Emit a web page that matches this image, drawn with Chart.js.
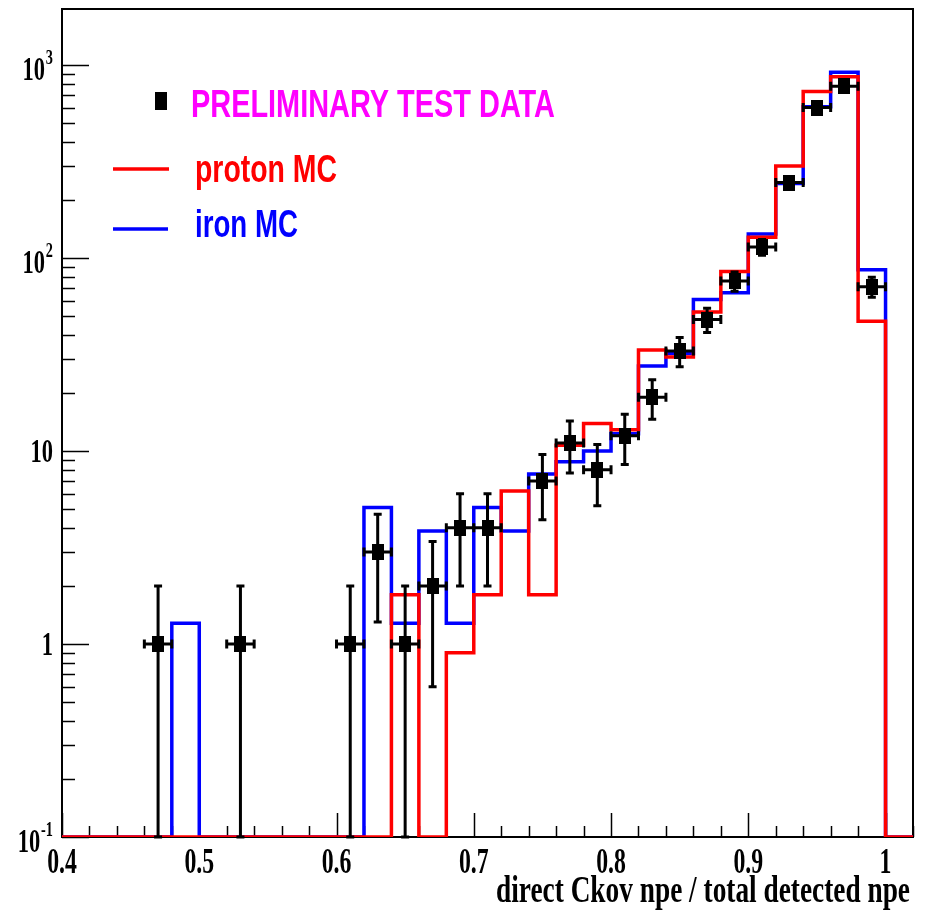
<!DOCTYPE html>
<html>
<head>
<meta charset="utf-8">
<script src="https://cdn.jsdelivr.net/npm/chart.js@4.4.1/dist/chart.umd.min.js"></script>
<style>
  html, body { margin: 0; padding: 0; background: #ffffff; }
  canvas { display: block; }
</style>
</head>
<body>
<canvas id="c" width="927" height="923"></canvas>
<script>
// ---------------- data ----------------
// left edges of the 0.02-wide bins
const binLow = [0.40,0.42,0.44,0.46,0.48,0.50,0.52,0.54,0.56,0.58,0.60,0.62,0.64,0.66,0.68,0.70,
                0.72,0.74,0.76,0.78,0.80,0.82,0.84,0.86,0.88,0.90,0.92,0.94,0.96,0.98,1.00];
const binHigh = 1.02;
const protonMC = [0,0,0,0,0,0,0,0,0,0,0,0,1.8,0,0.9,1.8,
                  6.2,1.8,10.7,13.9,12.9,33.4,30.7,52.5,85,128,300,728,870,47,0];
const ironMC   = [0,0,0,0,1.28,0,0,0,0,0,0,5.1,1.28,3.85,1.28,5.1,
                  3.85,7.6,8.8,10.0,12.3,27.6,32,61,66,133,243,608,916,87,0];
// preliminary test data points (bin centres), counts and errors
const dataX   = [0.47,0.53,0.61,0.63,0.65,0.67,0.69,0.71,0.75,0.77,0.79,0.81,0.83,0.85,0.87,0.89,0.91,0.93,0.95,0.97,0.99];
const dataY   = [1,1,1,3,1,2,4,4,7,11,8,12,19,33,48,76,114,246,602,777,71];
const dataErr = [1.0,1.0,1.0,1.7,1.0,1.4,2.0,2.0,2.6,3.3,2.8,3.5,4.4,5.7,6.9,8.7,10.7,15.7,24.5,27.9,8.4];
const dataHalfWidth = 0.01;
// axis ticks
const xTickValues = [0.4,0.5,0.6,0.7,0.8,0.9,1.0];
const xTickLabels = ['0.4','0.5','0.6','0.7','0.8','0.9','1'];
const xMinorStep = 0.02;
const yTickValues = [0.1,1,10,100,1000];
const yTickBase   = ['10','1','10','10','10'];
const yTickExp    = ['-1','','','2','3'];
const X_MIN = 0.4, X_MAX = 1.02, Y_MIN = 0.1, Y_MAX = 1950;

const legendTitle = 'PRELIMINARY TEST DATA';
const legendProton = 'proton MC';
const legendIron = 'iron MC';
const xAxisTitle = 'direct Ckov npe / total detected npe';

// ---------------- helpers ----------------
// each bin value is held from its left edge to the next edge
function stepPoints(vals) {
  const pts = [{ x: binLow[0], y: Y_MIN }];
  binLow.forEach((x, i) => {
    const nx = i + 1 < binLow.length ? binLow[i + 1] : binHigh;
    pts.push({ x: nx, y: Math.max(vals[i], Y_MIN) });
  });
  return pts;
}
const SERIF = '"Liberation Serif", "DejaVu Serif", serif';
const SANS = '"Liberation Sans", Arial, sans-serif';
function txt(ctx, s, x, y, font, color, align, sx) {
  ctx.save();
  ctx.font = font;
  ctx.fillStyle = color;
  ctx.textBaseline = 'alphabetic';
  ctx.textAlign = align;
  ctx.translate(x, y);
  ctx.scale(sx, 1);
  ctx.fillText(s, 0, 0);
  ctx.restore();
}
function txtFit(ctx, s, x, y, font, color, align, width) {
  ctx.save();
  ctx.font = font;
  const w = ctx.measureText(s).width;
  ctx.restore();
  txt(ctx, s, x, y, font, color, align, width / w);
}

const marker = document.createElement('canvas');
marker.width = 12; marker.height = 16;
(function(){ const m = marker.getContext('2d'); m.fillStyle = '#000'; m.fillRect(0,0,12,16); })();

// ---------------- plugins ----------------
const framePlugin = {
  id: 'frame',
  beforeDatasetsDraw(chart) {
    const ctx = chart.ctx, a = chart.chartArea;
    const xs = chart.scales.x, ys = chart.scales.y;
    ctx.save();
    ctx.strokeStyle = '#000';
    ctx.lineWidth = 2;
    ctx.strokeRect(a.left, a.top, a.right - a.left, a.bottom - a.top);
    ctx.lineWidth = 1.5;
    ctx.beginPath();
    for (let k = 0; ; k++) {
      const v = X_MIN + k * xMinorStep;
      if (v > X_MAX + 1e-9) break;
      const px = Math.round(xs.getPixelForValue(v)) + 0.5;
      const major = Math.abs(v * 10 - Math.round(v * 10)) < 1e-6;
      const len = major ? 24 : 11;
      ctx.moveTo(px, a.bottom);
      ctx.lineTo(px, a.bottom - len);
    }
    for (let d = -1; d <= 3; d++) {
      for (let m = 1; m <= 9; m++) {
        const v = m * Math.pow(10, d);
        if (v < Y_MIN - 1e-12 || v > Y_MAX) continue;
        const py = Math.round(ys.getPixelForValue(v)) + 0.5;
        const len = m === 1 ? 27 : 13;
        ctx.moveTo(a.left, py);
        ctx.lineTo(a.left + len, py);
      }
    }
    ctx.stroke();
    ctx.restore();
  },
  afterDatasetsDraw(chart) {
    const ctx = chart.ctx, a = chart.chartArea;
    const xs = chart.scales.x, ys = chart.scales.y;
    ctx.save();
    ctx.strokeStyle = '#000';
    ctx.lineWidth = 3;
    ctx.beginPath();
    for (let i = 0; i < dataX.length; i++) {
      const px = xs.getPixelForValue(dataX[i]);
      const py = ys.getPixelForValue(dataY[i]);
      const lo = dataY[i] - dataErr[i];
      const pyLo = lo > Y_MIN ? ys.getPixelForValue(lo) : a.bottom;
      const pyHi = ys.getPixelForValue(dataY[i] + dataErr[i]);
      const pxL = xs.getPixelForValue(dataX[i] - dataHalfWidth);
      const pxR = xs.getPixelForValue(dataX[i] + dataHalfWidth);
      ctx.moveTo(px, pyHi); ctx.lineTo(px, pyLo);
      ctx.moveTo(px - 4, pyHi); ctx.lineTo(px + 4, pyHi);
      ctx.moveTo(px - 4, pyLo); ctx.lineTo(px + 4, pyLo);
      ctx.moveTo(pxL, py); ctx.lineTo(pxR, py);
      ctx.moveTo(pxL, py - 4.5); ctx.lineTo(pxL, py + 4.5);
      ctx.moveTo(pxR, py - 4.5); ctx.lineTo(pxR, py + 4.5);
    }
    ctx.stroke();
    ctx.restore();
  },
  afterDraw(chart) {
    const ctx = chart.ctx, a = chart.chartArea;
    const xs = chart.scales.x, ys = chart.scales.y;
    const SX = 0.68;
    xTickValues.forEach((v, i) => {
      txt(ctx, xTickLabels[i], xs.getPixelForValue(v), a.bottom + 36, 'bold 35px ' + SERIF, '#000', 'center', SX);
    });
    yTickValues.forEach((v, i) => {
      const py = ys.getPixelForValue(v);
      const base = yTickBase[i], ex = yTickExp[i];
      if (!ex) {
        txt(ctx, base, 53, py + 11, 'bold 33px ' + SERIF, '#000', 'right', SX);
      } else {
        ctx.save();
        ctx.font = 'bold 21px ' + SERIF;
        const ew = ctx.measureText(ex).width * SX;
        ctx.restore();
        const right = 53;
        txt(ctx, ex, right, py - 1, 'bold 21px ' + SERIF, '#000', 'right', SX);
        txt(ctx, base, right - ew - 1, py + 15, 'bold 33px ' + SERIF, '#000', 'right', SX);
      }
    });
    txtFit(ctx, xAxisTitle, 910, 902, 'bold 37px ' + SERIF, '#000', 'right', 414);
    ctx.save();
    ctx.fillStyle = '#000';
    ctx.fillRect(155, 92, 12, 18);
    ctx.lineWidth = 3.5;
    ctx.strokeStyle = '#ff0000';
    ctx.beginPath(); ctx.moveTo(113, 169); ctx.lineTo(169, 169); ctx.stroke();
    ctx.strokeStyle = '#0000ff';
    ctx.beginPath(); ctx.moveTo(113, 229); ctx.lineTo(168, 229); ctx.stroke();
    ctx.restore();
    txtFit(ctx, legendTitle, 191, 117, 'bold 39px ' + SANS, '#ff00ff', 'left', 364);
    txtFit(ctx, legendProton, 195, 182, 'bold 38px ' + SANS, '#ff0000', 'left', 142);
    txtFit(ctx, legendIron, 195, 237, 'bold 38px ' + SANS, '#0000ff', 'left', 103);
  }
};

// ---------------- chart ----------------
new Chart(document.getElementById('c'), {
  type: 'line',
  data: {
    datasets: [
      {
        type: 'scatter',
        label: legendTitle,
        data: dataX.map((x, i) => ({ x: x, y: dataY[i] })),
        pointStyle: marker,
        pointRadius: 6,
        showLine: false,
        order: 0
      },
      {
        label: legendProton,
        data: stepPoints(protonMC),
        stepped: 'after',
        borderColor: '#ff0000',
        borderWidth: 3.5,
        pointRadius: 0,
        fill: false,
        order: 1
      },
      {
        label: legendIron,
        data: stepPoints(ironMC),
        stepped: 'after',
        borderColor: '#0000ff',
        borderWidth: 3.5,
        pointRadius: 0,
        fill: false,
        order: 2
      }
    ]
  },
  options: {
    responsive: false,
    animation: false,
    devicePixelRatio: 1,
    layout: { padding: { left: 62, right: 14, top: 9, bottom: 86 } },
    plugins: { legend: { display: false }, tooltip: { enabled: false } },
    scales: {
      x: { type: 'linear', min: X_MIN, max: X_MAX, display: false },
      y: { type: 'logarithmic', min: Y_MIN, max: Y_MAX, display: false }
    }
  },
  plugins: [framePlugin]
});
</script>
</body>
</html>
